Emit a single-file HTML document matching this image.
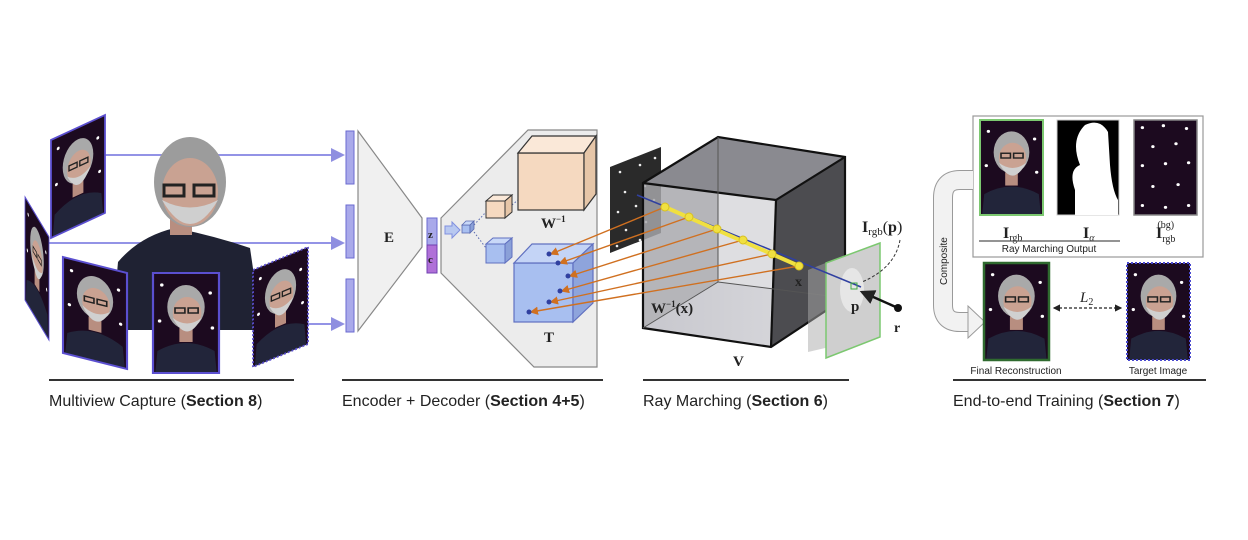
<!DOCTYPE html>
<html><head><meta charset="utf-8"><style>
html,body{margin:0;padding:0;background:#fff;}
svg{display:block;}
.cap{font-family:"Liberation Sans",sans-serif;font-size:16px;fill:#222;}
.m{font-family:"Liberation Serif",serif;font-weight:bold;fill:#222;}
.s{font-family:"Liberation Sans",sans-serif;font-size:10px;fill:#222;}
</style></head><body>
<svg width="1248" height="540" viewBox="0 0 1248 540" xmlns="http://www.w3.org/2000/svg">
<defs>
<g id="face">
<rect x="0" y="0" width="60" height="100" fill="#1c0a1f"/>
<circle cx="8" cy="12" r="1.6" fill="#fff"/><circle cx="52" cy="20" r="1.6" fill="#fff"/>
<circle cx="6" cy="48" r="1.6" fill="#fff"/><circle cx="54" cy="55" r="1.6" fill="#fff"/>
<circle cx="10" cy="80" r="1.6" fill="#fff"/><circle cx="50" cy="85" r="1.4" fill="#fff"/>
<path d="M2 100 L4 78 Q30 62 56 78 L58 100Z" fill="#22253a"/>
<rect x="24" y="55" width="12" height="14" fill="#b88e80"/>
<ellipse cx="30" cy="34" rx="17" ry="22" fill="#a9a9a9"/>
<ellipse cx="31" cy="40" rx="13" ry="16" fill="#caa292"/>
<path d="M18 45 Q31 72 44 45 Q31 56 18 45Z" fill="#d0d0d0"/>
<rect x="20" y="35" width="9" height="5" fill="none" stroke="#222" stroke-width="1.5"/>
<rect x="32" y="35" width="9" height="5" fill="none" stroke="#222" stroke-width="1.5"/>
</g>
<g id="stars">
<rect width="60" height="100" fill="#1c0a1f"/>
<g fill="#fff"><circle cx="8" cy="8" r="1.6"/><circle cx="28" cy="6" r="1.6"/><circle cx="50" cy="9" r="1.6"/>
<circle cx="18" cy="28" r="1.6"/><circle cx="40" cy="25" r="1.6"/><circle cx="8" cy="48" r="1.6"/>
<circle cx="30" cy="46" r="1.6"/><circle cx="52" cy="45" r="1.6"/><circle cx="18" cy="70" r="1.6"/>
<circle cx="42" cy="68" r="1.6"/><circle cx="8" cy="90" r="1.6"/><circle cx="30" cy="92" r="1.6"/><circle cx="52" cy="90" r="1.6"/></g>
</g>
<marker id="ao" markerWidth="6" markerHeight="6" refX="5" refY="3" orient="auto"><path d="M0,0 L6,3 L0,6Z" fill="#d07020"/></marker>
<marker id="ab" markerWidth="7" markerHeight="7" refX="6" refY="3.5" orient="auto"><path d="M0,0 L7,3.5 L0,7Z" fill="#8f8fe0"/></marker>
<marker id="ak" markerWidth="6" markerHeight="6" refX="5" refY="3" orient="auto"><path d="M0,0 L6,3 L0,6Z" fill="#222"/></marker>
<marker id="aks" markerWidth="6" markerHeight="6" refX="1" refY="3" orient="auto"><path d="M6,0 L0,3 L6,6Z" fill="#222"/></marker>
<linearGradient id="fl" x1="0" y1="0" x2="1" y2="0"><stop offset="0" stop-color="#cfcfd8"/><stop offset="1" stop-color="#eeeef4"/></linearGradient>
</defs>

<!-- ===== Multiview capture ===== -->
<g stroke="#9393e6" stroke-width="2" fill="none">
<line x1="105" y1="155" x2="343" y2="155" marker-end="url(#ab)"/>
<line x1="49" y1="243" x2="343" y2="243" marker-end="url(#ab)"/>
<line x1="219" y1="324" x2="343" y2="324" marker-end="url(#ab)"/>
</g>
<!-- central person -->
<path d="M112 330 L118 262 Q140 236 175 228 Q215 236 250 248 L262 330Z" fill="#1f2233"/>
<rect x="170" y="210" width="22" height="25" fill="#b88e80"/>
<ellipse cx="190" cy="182" rx="36" ry="45" fill="#9c9c9c"/>
<ellipse cx="190" cy="192" rx="28" ry="34" fill="#c9a292"/>
<path d="M162 200 Q190 248 218 200 Q190 215 162 200Z" fill="#cfcfcf"/>
<rect x="164" y="185" width="20" height="11" fill="none" stroke="#222" stroke-width="3"/>
<rect x="194" y="185" width="20" height="11" fill="none" stroke="#222" stroke-width="3"/>
<!-- frames -->
<g transform="matrix(0.9,-0.417,0,0.98,51,140)"><use href="#face"/><rect width="60" height="100" fill="none" stroke="#5b4fd0" stroke-width="2"/></g>
<g transform="matrix(0.4,0.667,0,1.03,25,197)"><use href="#face"/><rect width="60" height="100" fill="none" stroke="#5b4fd0" stroke-width="2"/></g>
<g transform="matrix(1.067,0.267,0,0.96,63,257)"><use href="#face"/><rect width="60" height="100" fill="none" stroke="#5b4fd0" stroke-width="2"/></g>
<g transform="matrix(1.1,0,0,1,153,273)"><use href="#face"/><rect width="60" height="100" fill="none" stroke="#5b4fd0" stroke-width="2"/></g>
<g transform="matrix(0.917,-0.383,0,0.97,253,270)"><use href="#face"/><rect width="60" height="100" fill="none" stroke="#5b4fd0" stroke-width="2" stroke-dasharray="2,2"/></g>
<line x1="49" y1="380" x2="294" y2="380" stroke="#333" stroke-width="2"/>
<text x="49" y="406" class="cap">Multiview Capture (<tspan font-weight="bold">Section 8</tspan>)</text>

<!-- ===== Encoder / decoder ===== -->
<g fill="#a9a9ea" stroke="#6a6ad0" stroke-width="1">
<rect x="346" y="131" width="8" height="53"/><rect x="346" y="205" width="8" height="53"/><rect x="346" y="279" width="8" height="53"/>
</g>
<polygon points="358,131 422,218 422,247 358,331" fill="#f0f0f0" stroke="#888" stroke-width="1.2"/>
<text x="384" y="242" class="m" font-size="15">E</text>
<rect x="427" y="218" width="10" height="27" fill="#a9a9ea" stroke="#6a6ad0"/>
<rect x="427" y="245" width="10" height="28" fill="#b070d8" stroke="#7040b0"/>
<text x="428" y="238" class="m" font-size="11">z</text>
<text x="428" y="263" class="m" font-size="11" fill="#602090">c</text>
<polygon points="441,218 528,130 597,130 597,367 534,367 441,273" fill="#ececec" stroke="#888" stroke-width="1.2"/>
<path d="M445 226 L452 226 L452 222 L460 230 L452 238 L452 234 L445 234Z" fill="#b8c8f0" stroke="#7f8fe0"/>
<!-- tiny cube -->
<g stroke="#5a6ab0" stroke-width="0.8"><rect x="462" y="225" width="8" height="8" fill="#a8bff0"/><polygon points="462,225 466,221 474,221 470,225" fill="#c8d8f8"/><polygon points="470,225 474,221 474,229 470,233" fill="#8aa0d8"/></g>
<g stroke="#5a6ab0" stroke-width="1" stroke-dasharray="1.5,2" fill="none"><line x1="474" y1="225" x2="486" y2="212"/><line x1="474" y1="232" x2="486" y2="248"/><line x1="512" y1="205" x2="518" y2="200"/></g>
<!-- small peach cube -->
<g stroke="#333" stroke-width="1"><rect x="486" y="201" width="19" height="17" fill="#f5d9c0"/><polygon points="486,201 493,195 512,195 505,201" fill="#fae8d8"/><polygon points="505,201 512,195 512,212 505,218" fill="#e6c6a8"/></g>
<!-- small blue cube -->
<g stroke="#6070c0" stroke-width="1"><rect x="486" y="244" width="19" height="19" fill="#a8bff0"/><polygon points="486,244 493,238 512,238 505,244" fill="#c8d8f8"/><polygon points="505,244 512,238 512,257 505,263" fill="#8aa0d8"/></g>
<!-- W^-1 cube -->
<g stroke="#333" stroke-width="1.2"><rect x="518" y="153" width="66" height="57" fill="#f5d9c0"/><polygon points="518,153 532,136 596,136 584,153" fill="#fae8d8"/><polygon points="584,153 596,136 596,194 584,210" fill="#e6c6a8"/></g>
<text x="541" y="228" class="m" font-size="15">W<tspan font-size="9" dy="-6">−1</tspan></text>
<!-- T cube -->
<g stroke="#6070c0" stroke-width="1.2"><rect x="514" y="263" width="59" height="59" fill="#a8bff0"/><polygon points="514,263 532,244 593,244 573,263" fill="#c4d4f6"/><polygon points="573,263 593,244 593,303 573,322" fill="#8ea4dc"/></g>
<text x="544" y="342" class="m" font-size="15">T</text>
<line x1="342" y1="380" x2="603" y2="380" stroke="#333" stroke-width="2"/>
<text x="342" y="406" class="cap">Encoder + Decoder (<tspan font-weight="bold">Section 4+5</tspan>)</text>

<!-- ===== Ray marching ===== -->
<polygon points="610,167 661,147 661,233 610,253" fill="#2a2a2a"/>
<g fill="#eee"><circle cx="620" cy="172" r="1.3"/><circle cx="640" cy="165" r="1.3"/><circle cx="655" cy="158" r="1.3"/><circle cx="625" cy="192" r="1.3"/><circle cx="645" cy="186" r="1.3"/><circle cx="618" cy="212" r="1.3"/><circle cx="636" cy="206" r="1.3"/><circle cx="654" cy="200" r="1.3"/><circle cx="626" cy="230" r="1.3"/><circle cx="646" cy="222" r="1.3"/><circle cx="617" cy="246" r="1.3"/><circle cx="640" cy="240" r="1.3"/></g>
<!-- box -->
<polygon points="718,137 845,157 845,298 718,282" fill="#f2f2f6"/>
<polygon points="643,183 718,137 718,282 643,328" fill="#9a9aa0" opacity="0.75"/>
<polygon points="643,328 718,282 845,298 771,347" fill="url(#fl)"/>
<polygon points="643,183 718,137 845,157 776,200" fill="#8a8a90"/>
<polygon points="776,200 845,157 845,298 771,347" fill="#4c4c50"/>
<polygon points="643,183 776,200 771,347 643,328" fill="#bbb" opacity="0.35"/>
<g stroke="#111" stroke-width="2.2" fill="none">
<polygon points="643,183 718,137 845,157 845,298 771,347 643,328"/>
<line x1="643" y1="183" x2="776" y2="200"/><line x1="776" y1="200" x2="845" y2="157"/><line x1="776" y1="200" x2="771" y2="347"/>
</g>
<g stroke="#555" stroke-width="1" fill="none"><line x1="718" y1="137" x2="718" y2="282"/><line x1="718" y1="282" x2="643" y2="328"/><line x1="718" y1="282" x2="845" y2="298"/></g>
<!-- ghost/plane -->
<polygon points="808,270 838,258 838,345 808,352" fill="#aaa" opacity="0.5"/>
<polygon points="826,263 880,243 880,337 826,358" fill="#cfcfcf" stroke="#7cc870" stroke-width="1.5"/>
<ellipse cx="852" cy="290" rx="12" ry="22" fill="#e6e6e6"/>
<!-- orange lines -->
<g stroke="#d07020" stroke-width="1.4" fill="none">
<line x1="665" y1="207" x2="551" y2="254" marker-end="url(#ao)"/>
<line x1="689" y1="217" x2="560" y2="263" marker-end="url(#ao)"/>
<line x1="717" y1="229" x2="570" y2="276" marker-end="url(#ao)"/>
<line x1="743" y1="240" x2="562" y2="291" marker-end="url(#ao)"/>
<line x1="772" y1="254" x2="551" y2="302" marker-end="url(#ao)"/>
<line x1="799" y1="266" x2="531" y2="312" marker-end="url(#ao)"/>
</g>
<g fill="#3040a0"><circle cx="549" cy="254" r="2.5"/><circle cx="558" cy="263" r="2.5"/><circle cx="568" cy="276" r="2.5"/><circle cx="560" cy="291" r="2.5"/><circle cx="549" cy="302" r="2.5"/><circle cx="529" cy="312" r="2.5"/></g>
<line x1="637" y1="195" x2="861" y2="287" stroke="#3040a0" stroke-width="1.5"/>
<line x1="665" y1="207" x2="799" y2="266" stroke="#f0e040" stroke-width="4"/>
<g fill="#f0e040" stroke="#d8c020"><circle cx="665" cy="207" r="4"/><circle cx="689" cy="217" r="4"/><circle cx="717" cy="229" r="4"/><circle cx="743" cy="240" r="4"/><circle cx="772" cy="254" r="4"/><circle cx="799" cy="266" r="4"/></g>
<text x="795" y="286" class="m" font-size="14" fill="#c8a000">x</text>
<text x="651" y="313" class="m" font-size="15" fill="#d07020">W<tspan font-size="9" dy="-6">−1</tspan><tspan dy="6">(x)</tspan></text>
<line x1="898" y1="308" x2="862" y2="292" stroke="#111" stroke-width="2.5" marker-end="url(#ak)"/>
<circle cx="898" cy="308" r="4" fill="#111"/>
<rect x="851" y="283" width="6" height="6" fill="none" stroke="#4a4"/>
<text x="851" y="311" class="m" font-size="15" fill="#3a9a3a">p</text>
<text x="894" y="332" class="m" font-size="14">r</text>
<text x="862" y="232" class="m" font-size="16">I<tspan font-size="11" font-weight="normal" dy="3">rgb</tspan><tspan dy="-3" font-weight="normal">(</tspan>p<tspan font-weight="normal">)</tspan></text>
<path d="M900 240 Q895 268 862 282" fill="none" stroke="#333" stroke-dasharray="3,2"/>
<text x="733" y="366" class="m" font-size="15">V</text>
<line x1="643" y1="380" x2="849" y2="380" stroke="#333" stroke-width="2"/>
<text x="643" y="406" class="cap">Ray Marching (<tspan font-weight="bold">Section 6</tspan>)</text>

<!-- ===== End-to-end ===== -->
<rect x="973" y="116" width="230" height="141" fill="#fff" stroke="#999" stroke-width="1.2"/>
<g transform="matrix(1.05,0,0,0.95,980,120)"><use href="#face"/></g>
<rect x="980" y="120" width="63" height="95" fill="none" stroke="#7cc870" stroke-width="2"/>
<rect x="1057" y="120" width="62" height="95" fill="#000" stroke="#ccc"/>
<path d="M1075 215 L1075 190 Q1068 170 1080 165 Q1070 140 1085 125 Q1100 118 1108 132 L1110 165 Q1112 190 1118 200 L1118 215Z" fill="#fff"/>
<g transform="matrix(1.05,0,0,0.95,1134,120)"><use href="#stars"/></g>
<rect x="1134" y="120" width="63" height="95" fill="none" stroke="#888" stroke-width="1.5"/>
<text x="1003" y="238" class="m" font-size="16">I<tspan font-size="10" font-weight="normal" dy="3">rgb</tspan></text>
<text x="1083" y="238" class="m" font-size="16">I<tspan font-size="10" font-weight="normal" font-style="italic" dy="3">α</tspan></text>
<text x="1156" y="238" class="m" font-size="16">I<tspan font-size="10" font-weight="normal" dy="4">rgb</tspan><tspan font-size="10" font-weight="normal" dx="-18" dy="-14">(bg)</tspan></text>
<line x1="979" y1="241" x2="1120" y2="241" stroke="#555" stroke-width="1.2"/>
<text x="1049" y="252" class="s" text-anchor="middle" font-size="9.5">Ray Marching Output</text>
<!-- composite arrow -->
<path d="M973 180 L960 180 Q943 180 943 198 L943 305 Q943 322 960 322 L970 322" fill="none" stroke="#9a9a9a" stroke-width="20"/>
<path d="M973 180 L960 180 Q943 180 943 198 L943 305 Q943 322 960 322 L970 322" fill="none" stroke="#f2f2f2" stroke-width="18"/>
<polygon points="968,306 985,322 968,338" fill="#f2f2f2" stroke="#9a9a9a" stroke-width="1"/>
<text transform="translate(947,285) rotate(-90)" class="s" font-size="10">Composite</text>
<g transform="matrix(1.08,0,0,0.97,984,263)"><use href="#face"/></g>
<rect x="984" y="263" width="65" height="97" fill="none" stroke="#2f6a2f" stroke-width="2.5"/>
<g transform="matrix(1.05,0,0,0.97,1127,263)"><use href="#face"/></g>
<rect x="1127" y="263" width="63" height="97" fill="none" stroke="#4a4ad0" stroke-width="2" stroke-dasharray="2,2"/>
<line x1="1054" y1="308" x2="1121" y2="308" stroke="#222" stroke-width="1.2" stroke-dasharray="3,2" marker-end="url(#ak)" marker-start="url(#aks)"/>
<text x="1080" y="302" font-family="Liberation Serif,serif" font-style="italic" font-size="15" fill="#222">L<tspan font-size="10" font-style="normal" dy="3">2</tspan></text>
<text x="1016" y="374" class="s" text-anchor="middle">Final Reconstruction</text>
<text x="1158" y="374" class="s" text-anchor="middle">Target Image</text>
<line x1="953" y1="380" x2="1206" y2="380" stroke="#333" stroke-width="2"/>
<text x="953" y="406" class="cap">End-to-end Training (<tspan font-weight="bold">Section 7</tspan>)</text>
</svg>
</body></html>
